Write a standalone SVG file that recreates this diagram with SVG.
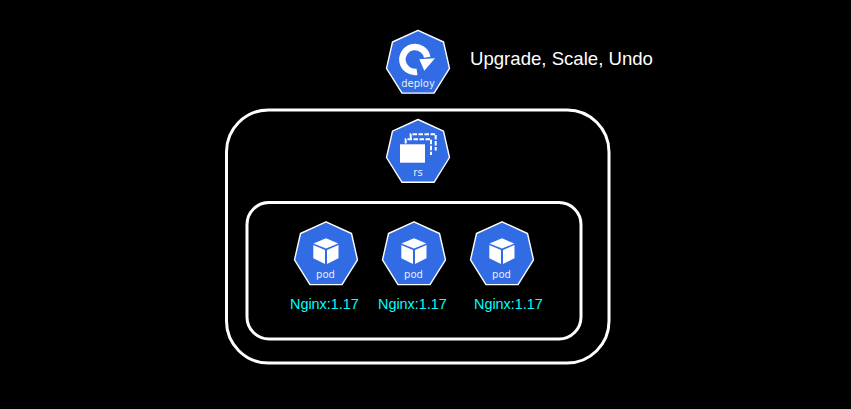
<svg xmlns="http://www.w3.org/2000/svg" width="851" height="409" viewBox="0 0 851 409">
<style>
text{font-family:"Liberation Sans",Arial,sans-serif}
.frame{fill:none;stroke:#fff;stroke-width:3}
.hex{fill:#326ce5;stroke:#fff;stroke-width:1.4;stroke-linejoin:round}
.kind{fill:#fff;font-family:"DejaVu Sans",sans-serif;font-size:10px;text-anchor:middle;fill-opacity:.9}
.ver{fill:#00ffff;font-size:14.4px}
.note{fill:#fff;font-size:18.6px}
.dash{fill:none;stroke:#fff;stroke-width:2;stroke-dasharray:4.500 1.500}
</style>
<defs>
<polygon id="hept" class="hex" points="0,0 25.500,11.700 31.500,38 16,62.800 -16,62.800 -31.500,38 -25.500,11.700"/>
<g id="cube" fill="#fff">
<path d="M0,16.500 L12.300,21.800 L0,26.800 L-12.500,21.800Z"/>
<path d="M-12.700,23.200 L-1,28.200 L-1,42.200 L-12.700,36.500Z"/>
<path d="M12.500,23.200 L1,28.200 L1,42.200 L12.500,36.500Z"/>
</g>
</defs>
<rect width="851" height="409" fill="#000"/>
<g id="connectors"></g>
<g id="frame-rs"><rect class="frame" x="226.500" y="110" width="382.500" height="253" rx="42"/></g>
<g id="frame-pods"><rect class="frame" x="247" y="202.500" width="334" height="136.500" rx="22"/></g>
<g id="deploy" transform="translate(418,30.300)">
<use href="#hept"/>
<path d="M-1,41.500 A12.500,12.500 0 1 1 9.200,27" fill="none" stroke="#fff" stroke-width="6.500"/>
<path d="M1.300,29 L17,28 L6.300,40.400Z" fill="#fff"/>
<text class="kind" x="0" y="56.500">deploy</text>
</g>
<text class="note" x="470" y="65">Upgrade, Scale, Undo</text>
<g id="rs" transform="translate(418,119.500)">
<use href="#hept"/>
<path class="dash" d="M-7.300,19 V14.800 H17.700 V31"/>
<path class="dash" d="M-12.300,24 V19.800 H13 V35.500"/>
<rect x="-18" y="24.800" width="25" height="18.400" fill="#fff"/>
<text class="kind" x="0" y="56.500">rs</text>
</g>
<g id="pod-1" transform="translate(326,221.800)">
<use href="#hept"/><use href="#cube"/>
<text class="kind" x="-0.500" y="56">pod</text>
</g>
<text class="ver" x="290" y="309">Nginx:1.17</text>
<g id="pod-2" transform="translate(414,221.800)">
<use href="#hept"/><use href="#cube"/>
<text class="kind" x="-0.500" y="56">pod</text>
</g>
<text class="ver" x="378" y="309">Nginx:1.17</text>
<g id="pod-3" transform="translate(502,221.800)">
<use href="#hept"/><use href="#cube"/>
<text class="kind" x="-0.500" y="56">pod</text>
</g>
<text class="ver" x="474" y="309">Nginx:1.17</text>
</svg>
